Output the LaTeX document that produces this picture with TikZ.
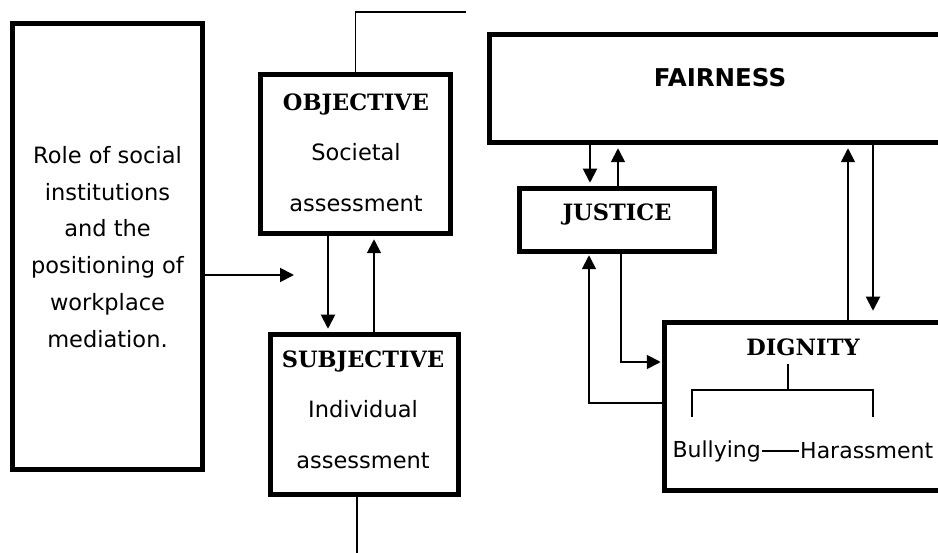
\documentclass[tikz,border=0pt]{standalone}
\usepackage{fontspec}
\setmainfont{DejaVu Sans}
\newfontfamily\headfont{DejaVu Serif}
\usetikzlibrary{arrows.meta}
\begin{document}
\begin{tikzpicture}[x=1pt,y=-1pt,
  box/.style={draw,line width=5.5pt,inner sep=0pt},
  conn/.style={line width=1.9pt},
  arr/.style={conn,shorten >=3pt,-{Triangle[width=14pt,length=14pt]}},
  body/.style={font=\fontsize{22.5}{36.8}\selectfont,align=center,inner sep=0pt},
  body2/.style={font=\fontsize{22.5}{50.5}\selectfont,align=center,inner sep=0pt},
  head/.style={font=\fontsize{22.5}{27}\selectfont\headfont\bfseries,inner sep=0pt},
  headsans/.style={font=\fontsize{24.5}{29}\selectfont\bfseries,inner sep=0pt},
  small/.style={font=\fontsize{22}{27}\selectfont,inner sep=1pt},
]
\clip (0,0) rectangle (938,553);
% boxes
\node[box,minimum width=190pt,minimum height=446pt] (soc) at (107.5,246.5) {};
\node[box,minimum width=190pt,minimum height=159pt] (obj) at (355.5,154) {};
\node[box,minimum width=188pt,minimum height=160pt] (subj) at (364.5,414.5) {};
\node[box,minimum width=470.5pt,minimum height=108pt] (fair) at (724.75,88.5) {};
\node[box,minimum width=195pt,minimum height=63pt] (just) at (617,220) {};
\node[box,minimum width=295.5pt,minimum height=168pt] (dig) at (812.25,406.5) {};
% texts
\node[body] (soct) at (107.5,247) {Role of social\\institutions\\and the\\positioning of\\workplace\\mediation.};
\node[body2] (objt) at (356,152.5) {{\headfont\bfseries\fontsize{22.5}{50.5}\selectfont OBJECTIVE}\\Societal\\assessment};
\node[body2] (subjt) at (363,409.5) {{\headfont\bfseries\fontsize{22.5}{50.5}\selectfont SUBJECTIVE}\\Individual\\assessment};
\node[headsans] (fairt) at (720,78) {FAIRNESS};
\node[head] (justt) at (617,214.5) {JUSTICE};
\node[head] (digt) at (803,347) {DIGNITY};
\node[small,anchor=east] (bul) at (762,451) {Bullying};
\node[small,anchor=west] (har) at (799,451) {Harassment};
% helper coordinates
\coordinate (topend) at (466,12);
\coordinate (soctip) at (294,275);
\coordinate (xa) at (328,0);
\coordinate (xb) at (374,0);
\coordinate (bot) at (357,553);
\coordinate (xc) at (590,0);
\coordinate (xd) at (618,0);
\coordinate (je) at (621,362);
\coordinate (jf) at (589,403);
\coordinate (xg) at (848,0);
\coordinate (xh) at (873,0);
\coordinate (bt) at (788,364);
\coordinate (bm) at (788,390);
\coordinate (bl) at (692,417);
\coordinate (br) at (873,417);
% connectors
\draw[conn] (obj.north) |- (topend);
\draw[arr,shorten >=0pt] (soc.east |- soctip) -- (soctip);
\draw[arr] (obj.south -| xa) -- (subj.north -| xa);
\draw[arr] (subj.north -| xb) -- (obj.south -| xb);
\draw[conn] (subj.south -| bot) -- (bot);
\draw[arr] (fair.south -| xc) -- (just.north -| xc);
\draw[arr] (just.north -| xd) -- (fair.south -| xd);
\draw[arr,shorten >=1pt] (just.south -| je) |- (dig.west |- je);
\draw[arr,shorten >=1pt] (dig.west |- jf) -| (just.south -| jf);
\draw[arr] (dig.north -| xg) -- (fair.south -| xg);
\draw[arr,shorten >=9pt] (fair.south -| xh) -- (dig.north -| xh);
\draw[conn,line width=1.5pt] (bt) -- (bm);
\draw[conn,line width=1.5pt] (bl) |- (bm) -| (br);
\draw[conn,line width=1.5pt] (bul.east) -- (har.west);
\end{tikzpicture}
\end{document}
